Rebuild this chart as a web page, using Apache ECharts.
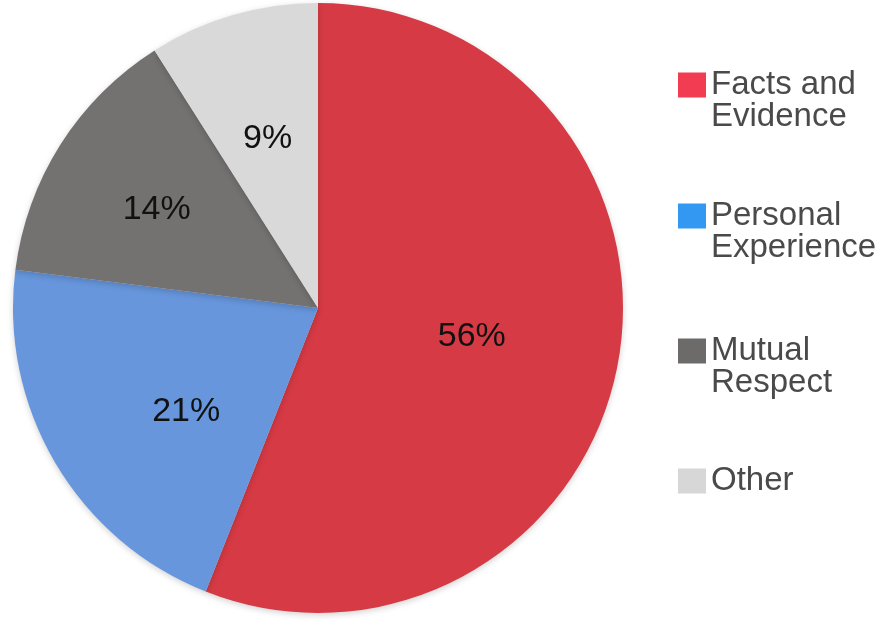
<!DOCTYPE html>
<html>
<head>
<meta charset="utf-8">
<script src="https://cdn.jsdelivr.net/npm/echarts@6/dist/echarts.min.js"></script>
<style>
  html, body { margin: 0; padding: 0; background: #ffffff; }
  #chart { width: 882px; height: 620px; }
</style>
</head>
<body>
<div id="chart"></div>
<script>
// ---- data ----
const categories = ['Facts and Evidence', 'Personal Experience', 'Mutual Respect', 'Other'];
const legendLabels = ['Facts and\nEvidence', 'Personal\nExperience', 'Mutual\nRespect', 'Other'];
const values = [56, 21, 14, 9];

// ---- styles ----
const sliceColors = ['#d63a44', '#6796dc', '#747171', '#d9d9d9'];
const legendColors = ['#f23c52', '#3398f2', '#6d6a6a', '#d7d7d7'];
const labelOffsets = [[1, -1], [2, 24], [-30, -15], [-7, -20]];
const LH = 32;
const squareTops = [72, 203, 338, 468];
const FONT = '"Liberation Sans", Arial, Helvetica, sans-serif';

const chart = echarts.init(document.getElementById('chart'), null, { renderer: 'canvas' });

const legends = categories.map((name, i) => {
  const lines = legendLabels[i].split('\n');
  // pad with blank lines on top so the first line sits level with the square
  const text = '\n'.repeat(lines.length - 1) + legendLabels[i];
  const total = 2 * lines.length - 1;
  const above = (total * LH) / 2 - 12.5;
  return {
    orient: 'vertical',
    left: 678,
    top: squareTops[i] - above,
    padding: 0,
    itemWidth: 28,
    itemHeight: 25,
    icon: 'rect',
    selectedMode: false,
    data: [{ name: name, itemStyle: { color: legendColors[i] } }],
    formatter: () => text,
    textStyle: {
      fontFamily: FONT,
      fontSize: 33,
      lineHeight: LH,
      color: '#4a4a4a'
    }
  };
});

chart.setOption({
  backgroundColor: '#ffffff',
  animation: false,
  legend: legends,
  series: [{
    type: 'pie',
    center: [318, 308],
    radius: [0, 305],
    startAngle: 90,
    clockwise: true,
    avoidLabelOverlap: false,
    label: {
      show: true,
      position: 'inside',
      formatter: '{c}%',
      fontFamily: FONT,
      fontSize: 34,
      color: '#111111'
    },
    labelLine: { show: false },
    emphasis: { disabled: true },
    itemStyle: {
      borderWidth: 0,
      shadowBlur: 6,
      shadowColor: 'rgba(0,0,0,0.18)',
      shadowOffsetY: 2
    },
    data: categories.map((name, i) => ({
      name: name,
      value: values[i],
      itemStyle: { color: sliceColors[i] },
      label: { offset: labelOffsets[i] }
    }))
  }]
});
</script>
</body>
</html>
